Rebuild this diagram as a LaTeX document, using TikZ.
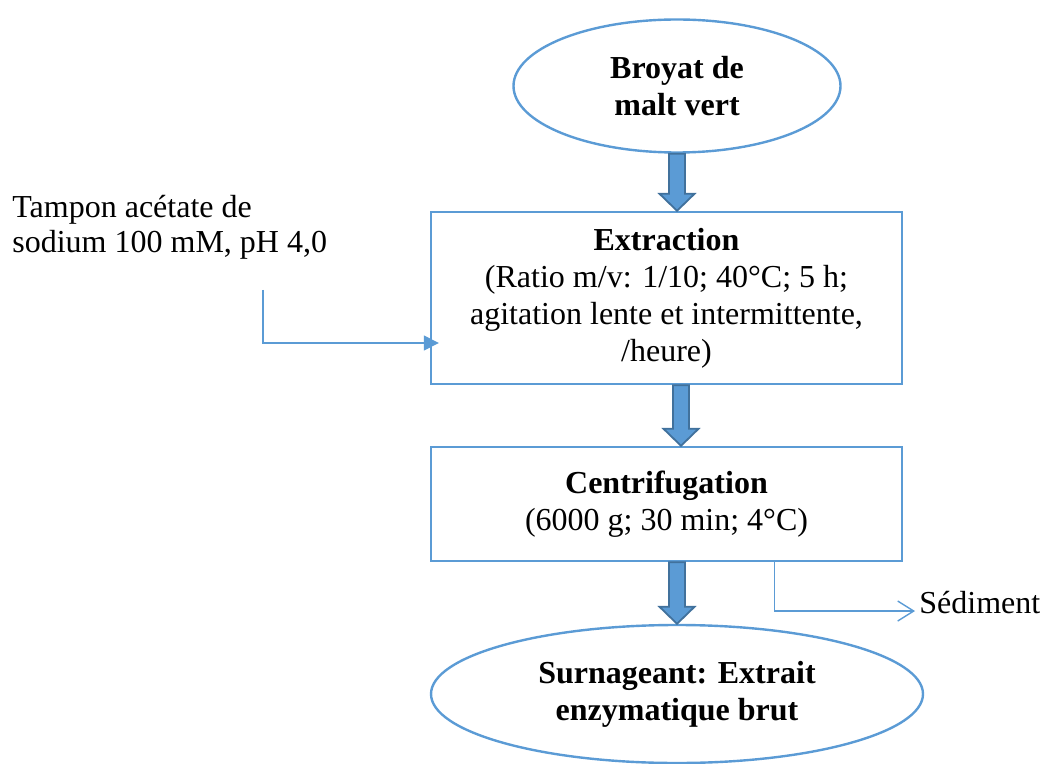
\documentclass[tikz,border=0pt]{standalone}
\usepackage{fontspec}
\setmainfont{Liberation Serif}
\usetikzlibrary{shapes.geometric,arrows.meta,calc}
\definecolor{BoxBlue}{HTML}{5B9BD5}
\definecolor{ArrowEdge}{HTML}{41719C}
\newcommand{\flowfont}{\fontsize{16}{18.5}\selectfont}
\newcommand{\blockarrow}[2]{%
  \filldraw[fill=BoxBlue, draw=ArrowEdge, line width=0.9pt]
    let \p1=#1, \p2=#2 in
    (\x1-4pt,\y1) -- (\x1+4pt,\y1) -- (\x1+4pt,\y2+8.5pt) -- (\x1+8.75pt,\y2+8.5pt)
    -- (\x1,\y2) -- (\x1-8.75pt,\y2+8.5pt) -- (\x1-4pt,\y2+8.5pt) -- cycle;}

\begin{document}
\begin{tikzpicture}[x=0.5pt, y=-0.5pt,
    stepbox/.style={draw=BoxBlue, line width=1.2pt, rectangle, align=center,
      minimum width=235.5pt, inner sep=0pt, font=\flowfont},
    endpoint/.style={draw=BoxBlue, line width=1.2pt, ellipse, align=center,
      inner sep=0pt, font=\flowfont\bfseries},
    feed/.style={draw=BoxBlue, line width=0.7pt}]
  \useasboundingbox (0,0) rectangle (1043,764);

  \node[endpoint, minimum width=163.5pt, minimum height=66.5pt] (broyat) at (677,86)
    {Broyat de\\malt vert};
  \node[stepbox, minimum height=86pt] (extraction) at (666.5,298)
    {\textbf{Extraction}\\(Ratio m/v: 1/10; 40°C; 5 h;\\agitation lente et intermittente,\\/heure)};
  \node[stepbox, minimum height=57pt] (centrifugation) at (666.5,504)
    {\textbf{Centrifugation}\\(6000 g; 30 min; 4°C)};
  \node[endpoint, minimum width=246pt, minimum height=69pt] (surnageant) at (677,694)
    {Surnageant: Extrait\\enzymatique brut};

  % inputs and outputs
  \node[anchor=north west, align=left, inner sep=0pt,
        font=\fontsize{16}{17.5}\selectfont] (tampon) at (12,195)
    {Tampon acétate de\\sodium 100 mM, pH 4,0};
  \node[anchor=base west, inner sep=0pt, font=\flowfont] (sediment) at (919,613) {Sédiment};

  \coordinate (bufferin) at (263,290);
  \coordinate (midline) at (681,0);

  \blockarrow{(broyat.south)}{(broyat.south |- extraction.north)}
  \blockarrow{(midline |- extraction.south)}{(midline |- centrifugation.north)}
  \blockarrow{(broyat.south |- centrifugation.south)}{(broyat.south |- surnageant.north)}

  \draw[feed, -{Triangle[length=7.5pt,width=7.5pt]}]
    (bufferin) |- ([xshift=4.5pt,yshift=-22.5pt]extraction.west);
  \draw[feed, -{Straight Barb[length=8pt,width=10pt]}]
    ([xshift=54pt]centrifugation.south) |- ([xshift=-2pt,yshift=-4.5pt]sediment.west);
\end{tikzpicture}
\end{document}
